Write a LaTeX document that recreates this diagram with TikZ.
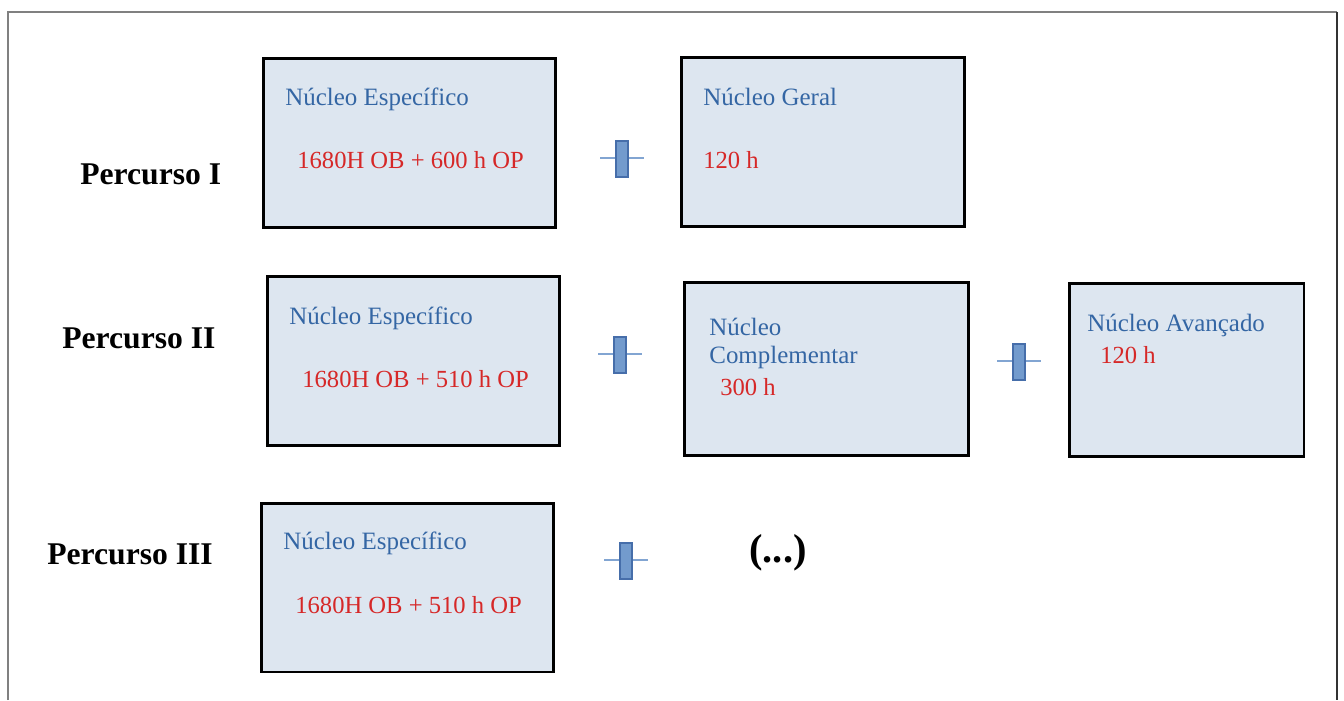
\documentclass[tikz,border=0pt]{standalone}
\usepackage{fontspec}
\setmainfont{Liberation Serif}
\usepackage{xcolor}

\definecolor{boxfill}{RGB}{221,230,240}
\definecolor{nucblue}{RGB}{52,102,164}
\definecolor{hred}{RGB}{214,40,40}
\definecolor{plusfill}{RGB}{115,155,205}
\definecolor{plusedge}{RGB}{70,110,170}
\definecolor{plusline}{RGB}{130,165,210}

\begin{document}
\begin{tikzpicture}[x=0.02cm,y=-0.02cm,
  box/.style 2 args={draw=black, line width=1.7pt, fill=boxfill, inner sep=0pt, minimum width=#1, minimum height=#2},
  lab/.style={anchor=west, inner sep=0pt, font=\fontsize{18}{21}\selectfont\bfseries},
  nuc/.style={anchor=west, inner sep=0pt, text=nucblue, font=\fontsize{14.2}{16}\selectfont},
  hrs/.style={anchor=west, inner sep=0pt, text=hred, font=\fontsize{14}{16}\selectfont},
  plusbar/.style={draw=plusedge, line width=0.8pt, fill=plusfill, inner sep=0pt, minimum width=0.24cm, minimum height=0.72cm},
  plusarm/.style={draw=plusline, line width=1.6pt}]

  \useasboundingbox (0,0) rectangle (1344,700);
  \draw[gray, line width=1pt] (8,700) -- (8,12) -- (1337,12);
  \draw[black!80, line width=1pt] (1337,12) -- (1337,700);

  % boxes
  \node[box={5.86cm}{3.4cm}] (b1) at (409.5,143) {};
  \node[box={5.68cm}{3.4cm}] (b2) at (823,142) {};
  \node[box={5.86cm}{3.4cm}] (b3) at (413.5,361) {};
  \node[box={5.7cm}{3.48cm}] (b4) at (826.5,369) {};
  \node[box={4.7cm}{3.48cm}] (b5) at (1186.5,370) {};
  \node[box={5.86cm}{3.38cm}] (b6) at (407.5,587.5) {};

  % row labels
  \node[lab] (r1) at (80,174) {Percurso I};
  \node[lab] (r2) at (62,338) {Percurso II};
  \node[lab] (r3) at (47,554) {Percurso III};

  % box texts
  \node[nuc] (t1) at (285,99) {Núcleo Específico};
  \node[hrs] (h1) at (297,160) {1680H OB + 600 h OP};
  \node[nuc] (t2) at (703,97) {Núcleo Geral};
  \node[hrs] (h2) at (703,160) {120 h};
  \node[nuc] (t3) at (289,318) {Núcleo Específico};
  \node[hrs] (h3) at (302,379) {1680H OB + 510 h OP};
  \node[nuc] (t4) at (709,327) {Núcleo};
  \node[nuc] (t4b) at (709,357) {Complementar};
  \node[hrs] (h4) at (720,387) {300 h};
  \node[nuc] (t5) at (1087,325) {Núcleo Avançado};
  \node[hrs] (h5) at (1100,355) {120 h};
  \node[nuc] (t6) at (283,543) {Núcleo Específico};
  \node[hrs] (h6) at (295,605) {1680H OB + 510 h OP};

  \node[font=\fontsize{23}{26}\selectfont\bfseries, inner sep=0pt] (etc) at (778,553) {(...)};

  % plus signs
  \foreach \n/\x/\y in {p1/622/159, p2/620/355, p3/1019/362, p4/626/561} {
    \draw[plusarm] (\x-22,\y-1) -- (\x+22,\y-1);
    \node[plusbar] (\n) at (\x,\y) {};
  }
\end{tikzpicture}
\end{document}
